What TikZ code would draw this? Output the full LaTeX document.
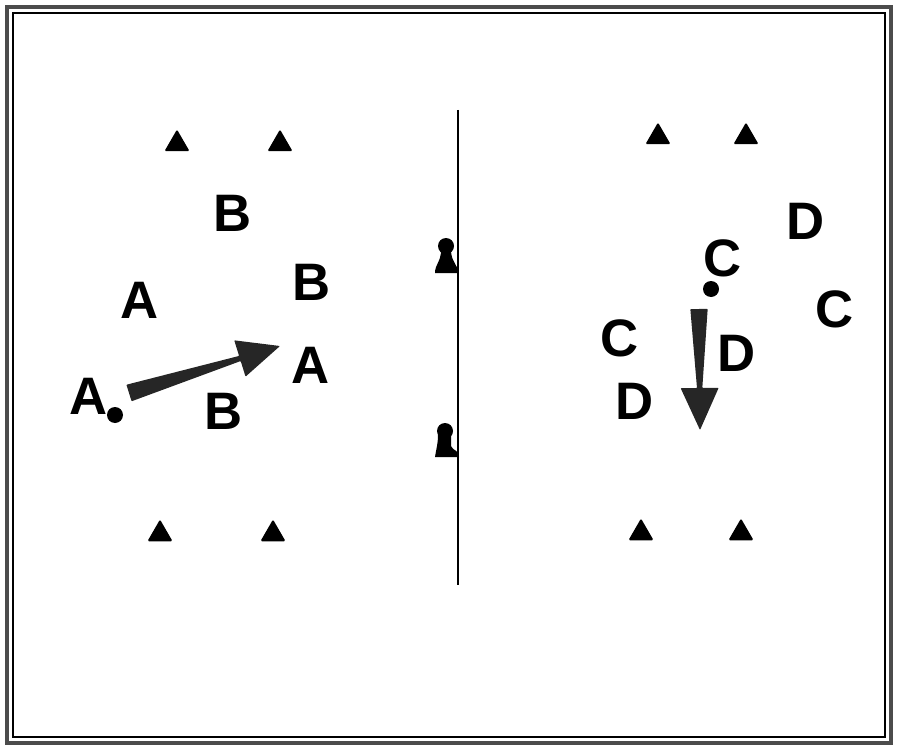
\documentclass[tikz,border=0pt]{standalone}
\usepackage{fontspec}
\setmainfont{Liberation Sans}
\usetikzlibrary{calc}
\usetikzlibrary{shapes.geometric}
\tikzset{
	player/.style={font=\fontsize{45}{50}\selectfont\bfseries, inner sep=0pt},
	cone/.style={regular polygon, regular polygon sides=3, fill=black, minimum size=8.7mm, inner sep=0pt, rounded corners=1.2pt},
	ball/.style={circle, fill=black, minimum size=4.8mm, inner sep=0pt},
	arrowfill/.style={fill=black!85, rounded corners=0.6pt}
}
% tapered pass arrow from #1 to #2
\newcommand{\passarrow}[2]{%
	\coordinate (neck) at ($(#2)!12.6mm!(#1)$);
	\fill[arrowfill] ($(#1)!2.6mm!90:(#2)$) -- ($(neck)!0.8mm!-90:(#1)$) -- ($(neck)!5.7mm!-90:(#1)$) -- (#2)
		-- ($(neck)!5.7mm!90:(#1)$) -- ($(neck)!0.8mm!90:(#1)$) -- ($(#1)!2.6mm!-90:(#2)$) -- cycle;}

\begin{document}
\begin{tikzpicture}[x=0.3mm, y=-0.3mm]
			\useasboundingbox (0,0) rectangle (900,752);
			% Cadre
			\draw[black!70, line width=3.4pt] (7,7) rectangle (891,743);
			\draw[black, line width=1.2pt] (13,13) rectangle (885,737);
			%		
			% Ligne centrale et entra\^ineurs
			\coordinate (nettop) at (458,110);
			\coordinate (netbot) at (458,585);
			\draw[line width=1.6pt] (nettop) -- (netbot);
			\fill (446,246) circle[radius=2.4mm];
			\fill (441,250) -- (451,250) .. controls (451,262) and (458,264) .. (458,273) -- (435,273) .. controls (435,264) and (441,262) .. (441,250) -- cycle;
			\fill (445,431) circle[radius=2.4mm];
			\fill (438,435) -- (451,435) -- (451,446) .. controls (453,451) and (459,450) .. (459,457) -- (435,457) .. controls (436,450) and (438,444) .. (438,435) -- cycle;
			%		
			% Plots
			\node[cone] (c1) at (177,144) {};
			\node[cone] (c2) at (280,144) {};
			\node[cone] (c3) at (160,534) {};
			\node[cone] (c4) at (273,534) {};
			\node[cone] (c5) at (658,137) {};
			\node[cone] (c6) at (746,137) {};
			\node[cone] (c7) at (641,533) {};
			\node[cone] (c8) at (741,533) {};
			%		
			% Terrain gauche : A et B
			\node[player] (b1) at (233,213) {B};
			\node[player] (b2) at (312,282) {B};
			\node[player] (b3) at (224,411) {B};
			\node[player] (a1) at (140,300) {A};
			\node[player] (a2) at (311,365) {A};
			\node[player] (a3) at (89,396) {A};
			\node[ball] (balla) at (115,415) {};
			\coordinate (passa) at (129,393);
			\coordinate (passaend) at (280,346);
			\passarrow{passa}{passaend}
			%		
			% Terrain droit : C et D
			\node[player] (cc1) at (723,258) {C};
			\node[player] (cc2) at (835,309) {C};
			\node[player] (cc3) at (620,338) {C};
			\node[player] (d1) at (806,221) {D};
			\node[player] (d2) at (737,353) {D};
			\node[player] (d3) at (635,401) {D};
			\node[ball] (ballc) at (711,289) {};
			\coordinate (passc) at (699,309);
			\coordinate (passcend) at (700,430);
			\passarrow{passc}{passcend}
		\end{tikzpicture}
\end{document}
